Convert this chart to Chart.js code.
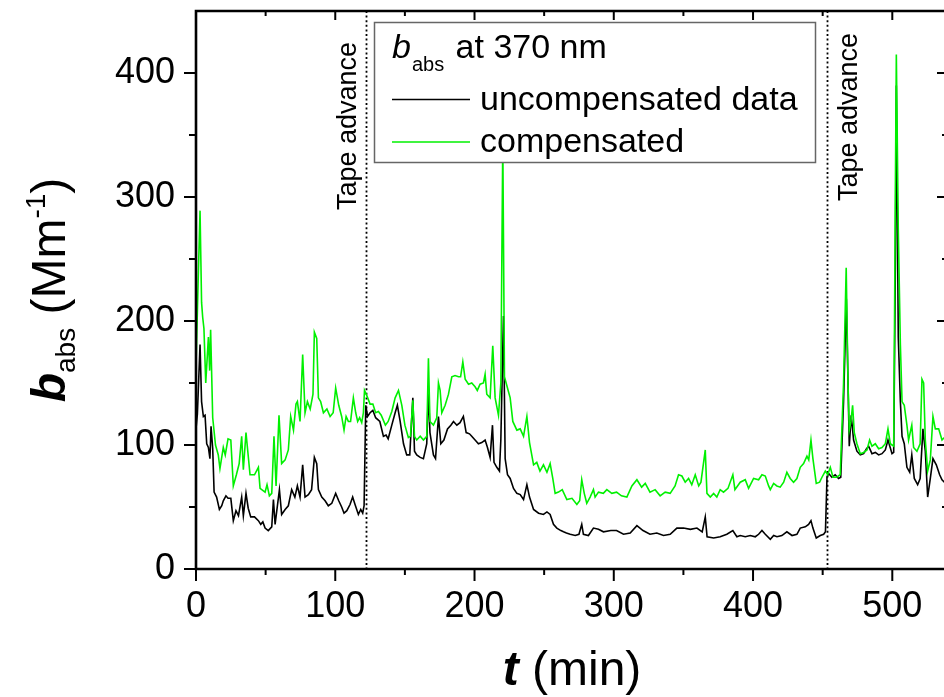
<!DOCTYPE html>
<html>
<head>
<meta charset="utf-8">
<script src="https://cdn.jsdelivr.net/npm/chart.js@4.4.1/dist/chart.umd.min.js"></script>
<style>
  html, body { margin: 0; padding: 0; background: #fff; overflow: hidden; }
  #wrap { width: 960px; height: 697px; }
</style>
</head>
<body>
<div id="wrap"><canvas id="chart" width="960" height="697"></canvas></div>
<script>
// ---- data: [t (min), b_abs (Mm^-1)] ----
const compensated = [
  [0,164],[1.5,230],[2.9,289],[4,215],[4.8,203],[5.7,194],[7,150],[8.9,187],[9.8,160],[10.5,193],
  [12,122],[14,100],[16,92],[17.2,81],[19.6,98],[21,92],[23,105],[25,104],[26.8,67],[29,76],
  [31,85],[32.8,107],[34,80],[35.9,110],[38.8,76],[42,76],[44.8,82],[46,65],[49.6,62],[51,68],
  [52.7,59],[54.4,61],[56,107],[57.5,67],[59.6,124],[61.5,85],[64,88],[66.3,96],[68,123],[70,112],
  [71.8,133],[72.8,135],[74.7,119],[76.6,173],[78.3,126],[80,135],[82,129],[84,141],[85,191],[86.7,186],
  [87.9,138],[89.5,135],[91.5,126],[94,129],[96.3,123],[98.5,126],[100.3,146],[102.5,132],[104.6,123],[106.3,112],
  [107.8,123],[109.4,119],[111,119],[113,138],[114.7,126],[116.1,119],[117.5,122],[119,118],[120.2,126],[121,144],
  [122.6,140],[125,133],[127,133],[129,126],[131,127],[133,124],[136,116],[138,119],[140.6,127],[143,138],
  [145.4,144],[147.8,132],[150,116],[152.5,106],[154,107],[155.7,136],[156.9,107],[158.5,104],[161,107],[163.3,104],
  [165.7,107],[166.9,170],[168,119],[170.5,116],[172.9,122],[174.1,150],[175.3,144],[176.5,126],[178.9,132],[181.3,141],
  [183.7,155],[186,156],[188.5,155],[190,155],[191.6,167],[193.3,153],[195.7,149],[198,150],[200.4,147],[202,144],
  [204,149],[206.4,150],[207.6,157],[208.8,141],[211.2,138],[213.1,180],[214.8,138],[217.2,124],[218.9,150],[220.3,345],
  [221.5,155],[222.7,150],[224.4,143],[225.6,138],[227.5,119],[230.4,112],[232.8,113],[235.2,107],[237.6,123],[239.5,102],
  [242.4,84],[244.7,86],[247,79],[249.5,84],[252,78],[254.3,85],[256.2,73],[257.9,61],[260.3,62],[263,64],
  [266.3,56],[270,57],[273.5,52],[275.5,55],[277,72],[278.8,61],[280.6,53],[283,58],[285.4,64],[286.6,58],
  [289,62],[292.5,61],[295,64],[298.6,61],[302,62],[305.5,59],[309.4,58],[313,67],[316.6,72],[320,66],
  [322.6,69],[326,62],[329.7,64],[333.3,59],[336.9,62],[340.5,61],[344,67],[346.5,76],[348.9,75],[351.3,70],
  [353.7,73],[356,68],[358.5,76],[361,67],[362.6,70],[365.7,96],[366.9,61],[369.3,58],[371.7,61],[374,58],
  [376.4,64],[378.8,62],[382,65],[385.5,76],[387,64],[390.8,70],[394.4,72],[396.8,65],[400.4,73],[404,72],
  [406.4,76],[408.8,75],[411.2,67],[412.4,64],[414.8,69],[417.1,67],[419.5,66],[422,70],[424.3,78],[426.7,73],
  [429.1,70],[431.5,73],[433.9,82],[436.3,85],[438.7,91],[440,88],[441.6,104],[443,89],[445.4,69],[447.8,70],
  [449.5,74],[451.9,79],[453.6,76],[455.5,82],[457.4,74],[460,74],[462.6,76],[465,150],[466.9,243],[468.2,150],
  [469.1,112],[470.3,119],[471.5,132],[472.7,110],[474.6,101],[477,93],[479.4,94],[481.8,96],[483.7,104],[485.4,99],
  [487.8,101],[490.2,97],[492.6,98],[495,101],[496.9,113],[498.6,101],[501,99],[502.2,304],[502.9,415],[504.3,274],
  [505.8,181],[507,135],[508.6,132],[510.5,116],[511.7,104],[514,116],[515.3,98],[517.7,95],[520,101],[521.3,153],
  [522.5,150],[523.7,104],[525.4,79],[527.3,88],[529.2,123],[530.9,113],[533.3,113],[535.7,104],[537.4,106],[540,100]
];

const uncompensated = [
  [0,113],[1,125],[2.9,181],[4,135],[5.3,123],[6.5,124],[7.7,101],[8.9,98],[10,89],[10.8,115],
  [12,97],[13,62],[14.8,58],[16.8,48],[18.5,51],[19.6,55],[21.5,59],[23,57],[25,57],[26.8,39],
  [28.7,47],[30.5,43],[32.8,58],[34,43],[35.9,61],[37.5,49],[39.3,42],[42,42],[44.8,39],[46.5,36],
  [48,38],[49.6,33],[51.9,31],[54.4,34],[55.6,56],[56.8,36],[59.9,64],[61.5,44],[64,48],[66.3,51],
  [68.7,64],[71,58],[72.8,67],[74.7,58],[76.6,84],[78.3,58],[80.7,60],[83,64],[85,90],[86.7,85],
  [87.9,64],[90.3,58],[92.7,55],[95,51],[97.5,53],[100.3,61],[102.5,55],[104.6,50],[106.3,45],[108.3,47],
  [110.6,52],[112.5,58],[114.2,52],[116.6,44],[118.3,48],[119.7,45],[120.7,51],[121.9,132],[123.2,123],[125,126],
  [127,128],[129,122],[132,119],[134.6,107],[136.5,108],[138,105],[140.6,116],[143,126],[144.6,132],[146.6,119],
  [149,101],[151.3,92],[153.5,92],[155.7,138],[156.9,95],[158.5,92],[161,90],[163.3,89],[165.7,101],[166.9,144],
  [168,110],[170.5,92],[172,89],[174.1,123],[175.8,101],[178,104],[180.6,113],[183,116],[184.9,119],[187.3,116],
  [189.6,118],[192,123],[194,110],[196.4,109],[198,107],[200.4,104],[202.8,101],[205.2,102],[207.6,104],[209.3,98],
  [211.2,90],[212.9,116],[214,86],[216,82],[217.9,79],[218.9,104],[220.8,204],[222,89],[223.7,76],[225.6,73],
  [228,65],[230.4,61],[232.8,60],[235.2,56],[237.6,68],[239.5,58],[242.4,48],[246,45],[249.5,44],[252,46],
  [254.3,44],[256.7,36],[259.1,33],[262,31],[263.9,30],[266,29],[268.7,28],[272.3,27],[275,28],[277,36],
  [278.2,28],[281.8,27],[285.4,33],[289,32],[292.6,30],[297.9,31],[302,31],[307,28],[311.8,29],[316.6,35],
  [321,31],[326,28],[330.9,29],[335.7,27],[340.5,28],[345.3,33],[350.1,33],[355,32],[359.7,33],[363.5,30],
  [365.7,42],[367,26],[371.7,25],[376.4,26],[381.2,28],[385.5,31],[388.4,26],[390.8,27],[394.4,26],[398,27],
  [401.6,26],[404,28],[406.4,31],[408.8,28],[412.4,24],[414.8,27],[417.2,26],[420.7,27],[424.3,30],[428,27],
  [431.5,28],[433.9,33],[437.5,34],[439.9,36],[441.6,39],[443,33],[445.4,25],[448.3,27],[450.7,28],[452,30],
  [453.1,74],[454.3,77],[456.6,74],[459,76],[461.4,73],[463,74],[465,135],[467,218],[468.2,150],[469.1,99],
  [470.5,124],[472.2,104],[474.6,95],[477,92],[479.4,93],[481.5,97],[483,99],[485.4,93],[487.8,94],[490.2,92],
  [492.6,93],[495,96],[496.9,104],[499.8,93],[501,94],[502.2,243],[502.9,390],[504.3,187],[505.8,135],[507,107],
  [508.6,101],[510.5,82],[512.5,78],[514,92],[515.8,73],[518.2,68],[520,73],[522,113],[523.7,95],[525.4,58],
  [527.3,73],[529.2,89],[531.6,84],[534,76],[535.7,72],[537.4,70],[540,67]
];

const xTicks = [0, 100, 200, 300, 400, 500];
const yTicks = [0, 100, 200, 300, 400];
const tapeAdvance = [122, 453];
const tapeLabel = 'Tape advance';
const seriesNames = ['uncompensated data', 'compensated'];

// ---- look ----
const FONT = "'Liberation Sans', Arial, Helvetica, sans-serif";
const GREEN = '#00f000';
const X_MIN = 0, X_MAX = 540, Y_MIN = 0, Y_MAX = 450;

function richText(ctx, parts, x, y, align) {
  let w = 0;
  parts.forEach(p => { ctx.font = p[1]; w += ctx.measureText(p[0]).width + (p[3] || 0); });
  let cx = align === 'center' ? x - w / 2 : x;
  parts.forEach(p => {
    ctx.font = p[1];
    ctx.fillText(p[0], cx, y + (p[2] || 0));
    cx += ctx.measureText(p[0]).width + (p[3] || 0);
  });
}

const framePlugin = {
  id: 'frame',
  beforeDatasetsDraw(chart) {
    const { ctx, chartArea: a, scales: { x } } = chart;
    ctx.save();
    // dotted tape-advance markers
    ctx.strokeStyle = '#000';
    ctx.lineWidth = 1.8;
    ctx.setLineDash([2, 2.6]);
    tapeAdvance.forEach(t => {
      const px = Math.round(x.getPixelForValue(t)) + 0.5;
      ctx.beginPath(); ctx.moveTo(px, a.top); ctx.lineTo(px, a.bottom); ctx.stroke();
    });
    ctx.setLineDash([]);
    // rotated labels next to the markers
    const labelPos = [[-10, 210], [30, 201]];
    ctx.fillStyle = '#000';
    ctx.font = '27px ' + FONT;
    ctx.textBaseline = 'alphabetic';
    ctx.textAlign = 'left';
    tapeAdvance.forEach((t, i) => {
      const px = x.getPixelForValue(t) + labelPos[i][0];
      ctx.save();
      ctx.translate(px, labelPos[i][1]);
      ctx.rotate(-Math.PI / 2);
      ctx.fillText(tapeLabel, 0, 0);
      ctx.restore();
    });
    ctx.restore();
  },
  afterDraw(chart) {
    const { ctx, chartArea: a, scales: { x, y } } = chart;
    ctx.save();
    ctx.strokeStyle = '#000';
    ctx.fillStyle = '#000';

    // frame
    ctx.lineWidth = 2.6;
    ctx.beginPath();
    ctx.moveTo(a.left, a.top); ctx.lineTo(a.right, a.top);
    ctx.lineTo(a.right, a.bottom); ctx.lineTo(a.left, a.bottom); ctx.closePath();
    ctx.stroke();

    // tick marks: outward on left/bottom, inward on top/right
    ctx.lineWidth = 2;
    const xs = [];
    xTicks.forEach(v => { xs.push([v, true]); if (v + 50 < X_MAX) xs.push([v + 50, false]); });
    xs.forEach(([v, major]) => {
      const px = x.getPixelForValue(v);
      ctx.beginPath(); ctx.moveTo(px, a.bottom); ctx.lineTo(px, a.bottom + (major ? 12 : 6)); ctx.stroke();
      ctx.beginPath(); ctx.moveTo(px, a.top); ctx.lineTo(px, a.top + (major ? 9 : 5)); ctx.stroke();
    });
    const ys = [];
    yTicks.forEach(v => { ys.push([v, true]); if (v + 50 < Y_MAX) ys.push([v + 50, false]); });
    ys.forEach(([v, major]) => {
      const py = y.getPixelForValue(v);
      ctx.beginPath(); ctx.moveTo(a.left, py); ctx.lineTo(a.left - (major ? 12 : 7), py); ctx.stroke();
      ctx.beginPath(); ctx.moveTo(a.right, py); ctx.lineTo(a.right - (major ? 11 : 6), py); ctx.stroke();
    });

    // legend box
    const L = { x: 374, y: 22, w: 441, h: 140 };
    ctx.fillStyle = '#fff';
    ctx.fillRect(L.x, L.y, L.w, L.h);
    ctx.strokeStyle = '#666';
    ctx.lineWidth = 1.5;
    ctx.strokeRect(L.x + 0.5, L.y + 0.5, L.w, L.h);
    ctx.fillStyle = '#000';
    ctx.textAlign = 'left';
    ctx.textBaseline = 'alphabetic';
    richText(ctx, [
      ['b', 'italic 34px ' + FONT, 0, 1],
      ['abs', '20px ' + FONT, 13, 2],
      [' at 370 nm', '34px ' + FONT, 0]
    ], L.x + 18, 58);
    const rows = [['#000', 99.5, 110], [GREEN, 142, 152]];
    rows.forEach((r, i) => {
      ctx.strokeStyle = r[0];
      ctx.lineWidth = 1.6;
      ctx.beginPath(); ctx.moveTo(L.x + 18, r[1]); ctx.lineTo(L.x + 96, r[1]); ctx.stroke();
      ctx.font = '34px ' + FONT;
      ctx.fillText(seriesNames[i], L.x + 106, r[2]);
    });

    // axis titles
    richText(ctx, [
      ['t', 'italic bold 48px ' + FONT, 0],
      [' (min)', '48px ' + FONT, 0]
    ], (a.left + a.right) / 2, 685, 'center');

    ctx.save();
    ctx.translate(65, 290);
    ctx.rotate(-Math.PI / 2);
    richText(ctx, [
      ['b', 'italic bold 48px ' + FONT, 0],
      ['abs', '28px ' + FONT, 10],
      [' (Mm', '48px ' + FONT, 0],
      ['-1', '28px ' + FONT, -20],
      [')', '48px ' + FONT, 0]
    ], 0, 0, 'center');
    ctx.restore();

    ctx.restore();
  }
};

const toXY = arr => arr.map(p => ({ x: p[0], y: p[1] }));

new Chart(document.getElementById('chart'), {
  type: 'line',
  data: {
    datasets: [
      {
        label: seriesNames[1],
        data: toXY(compensated),
        borderColor: GREEN,
        borderWidth: 1.6,
        pointRadius: 0,
        tension: 0,
        order: 0
      },
      {
        label: seriesNames[0],
        data: toXY(uncompensated),
        borderColor: '#000',
        borderWidth: 1.6,
        pointRadius: 0,
        tension: 0,
        order: 1
      }
    ]
  },
  options: {
    responsive: false,
    animation: false,
    events: [],
    layout: { padding: { left: 0, right: 12, top: 11, bottom: 0 } },
    plugins: { legend: { display: false }, tooltip: { enabled: false } },
    scales: {
      x: {
        type: 'linear',
        min: X_MIN, max: X_MAX,
        grid: { display: false, drawTicks: false },
        border: { display: false },
        afterBuildTicks: s => { s.ticks = xTicks.map(v => ({ value: v })); },
        afterFit: s => { s.height = 128; s.paddingLeft = 0; s.paddingRight = 0; },
        ticks: { color: '#000', font: { family: FONT, size: 36 }, padding: 16, maxRotation: 0, autoSkip: false }
      },
      y: {
        type: 'linear',
        min: Y_MIN, max: Y_MAX,
        grid: { display: false, drawTicks: false },
        border: { display: false },
        afterBuildTicks: s => { s.ticks = yTicks.map(v => ({ value: v })); },
        afterFit: s => { s.width = 196; s.paddingTop = 0; s.paddingBottom = 0; },
        ticks: { color: '#000', font: { family: FONT, size: 36 }, padding: 21 }
      }
    }
  },
  plugins: [framePlugin]
});
</script>
</body>
</html>
